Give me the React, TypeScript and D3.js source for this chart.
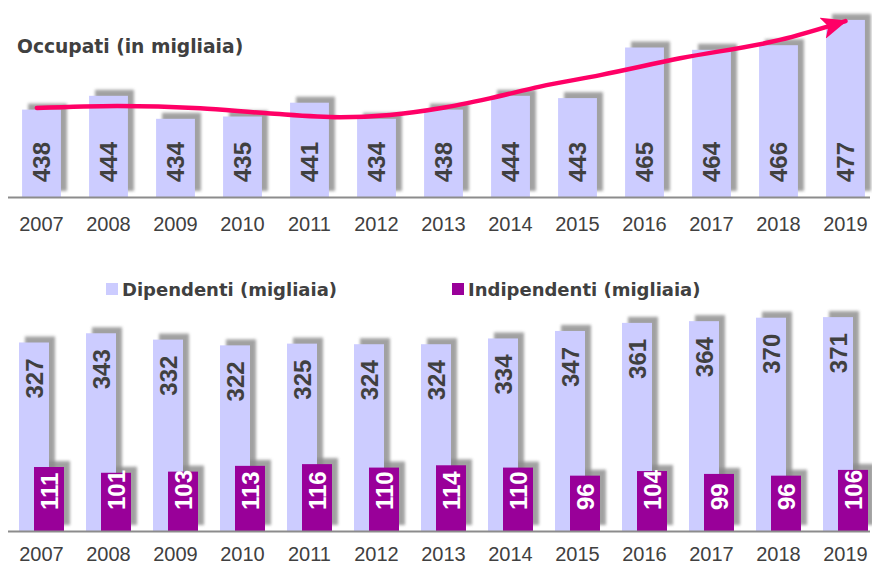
import React from "react";
import * as d3 from "d3";

const years = ["2007", "2008", "2009", "2010", "2011", "2012", "2013", "2014", "2015", "2016", "2017", "2018", "2019"];
const occupati = [438, 444, 434, 435, 441, 434, 438, 444, 443, 465, 464, 466, 477];
const dipendenti = [327, 343, 332, 322, 325, 324, 324, 334, 347, 361, 364, 370, 371];
const indipendenti = [111, 101, 103, 113, 116, 110, 114, 110, 96, 104, 99, 96, 106];
// hand-drawn trend arrow, as [year index, value]
const trendArrow: [number, number][] = [
  [-0.07, 438.7], [1.13, 439.6], [2.37, 438.6], [3.37, 436.4], [4.46, 434.7],
  [5.2, 435.7], [5.95, 438.6], [6.69, 442.9], [7.44, 448.0], [8.34, 453.0],
  [9.53, 460.3], [11.02, 468.3], [12.0, 476.5],
];

const W = 872;
const H = 566;
const TEXT = "#404040";
const LAVENDER = "#ccccff";
const PURPLE = "#990099";
const PINK = "#ff0066";

const App = () => {
  const x = d3.scaleBand().domain(years).range([8, 879]).paddingInner(0.42).paddingOuter(0.21);
  const step = x.step();
  const center = (i: number) => (x(years[0]) as number) + x.bandwidth() / 2 + i * step;

  // top chart
  const base1 = 197;
  const y1 = d3.scaleLinear().domain([400, 480]).range([base1, 13]);

  // bottom chart
  const base2 = 531;
  const y2 = d3.scaleLinear().domain([0, 400]).range([base2, base2 - 230.6]);
  const bw2 = 30;

  const trendLine = d3
    .line<[number, number]>()
    .x(d => center(d[0]))
    .y(d => y1(d[1]))
    .curve(d3.curveMonotoneX);

  const shadow = (key: string, rx: number, ry: number, w: number, h: number) => (
    <rect key={key} x={rx + 6} y={ry - 6} width={w} height={h} fill="#8a8a8a" opacity={0.8} filter="url(#blur)" />
  );

  const label = (key: string, cx: number, yy: number, txt: string, anchor: string, fill: string) => (
    <text
      key={key}
      transform={`translate(${cx},${yy}) rotate(-90)`}
      textAnchor={anchor}
      dy="0.36em"
      fill={fill}
      fontFamily="'Liberation Sans', Arial, sans-serif"
      fontWeight="bold"
      fontSize={24}
    >
      {txt}
    </text>
  );

  return (
    <svg width={W} height={H} style={{ position: "absolute", left: 0, top: 0 }}>
      <defs>
        <filter id="blur" x="-30%" y="-30%" width="160%" height="160%">
          <feGaussianBlur stdDeviation={1.6} />
        </filter>
        <marker
          id="head"
          viewBox="0 0 26 22"
          refX={24}
          refY={11}
          markerWidth={26}
          markerHeight={22}
          markerUnits="userSpaceOnUse"
          orient="auto"
        >
          <path d="M0,0 L26,11 L0,22 L6,11 Z" fill={PINK} />
        </marker>
      </defs>
      <rect width={W} height={H} fill="#fff" />

      {/* top chart */}
      <text x={17} y={53} fill={TEXT} fontFamily="'DejaVu Sans', sans-serif" fontWeight="bold" fontSize={18.7}>
        Occupati (in migliaia)
      </text>
      <g>
        {occupati.map((v, i) => shadow("s" + i, x(years[i]) as number, y1(v), x.bandwidth(), base1 - y1(v)))}
        {occupati.map((v, i) => (
          <rect key={"b" + i} x={x(years[i])} y={y1(v)} width={x.bandwidth()} height={base1 - y1(v)} fill={LAVENDER} />
        ))}
        {occupati.map((v, i) => label("l" + i, center(i), base1 - 15, String(v), "start", TEXT))}
      </g>
      <line x1={8} x2={870} y1={base1 + 0.5} y2={base1 + 0.5} stroke="#8c8c8c" strokeWidth={2} />
      {years.map((yr, i) => (
        <text key={"yt" + i} x={center(i)} y={base1 + 34} textAnchor="middle" fill={TEXT}
          fontFamily="'Liberation Sans', Arial, sans-serif" fontSize={20}>
          {yr}
        </text>
      ))}
      <path
        d={trendLine(trendArrow) || ""}
        fill="none"
        stroke={PINK}
        strokeWidth={4.5}
        strokeLinecap="round"
        markerEnd="url(#head)"
      />

      {/* bottom chart legend */}
      <rect x={106} y={283} width={12} height={12} fill={LAVENDER} />
      <text x={122} y={296} fill={TEXT} fontFamily="'DejaVu Sans', sans-serif" fontWeight="bold" fontSize={18}>
        Dipendenti (migliaia)
      </text>
      <rect x={452} y={283} width={12} height={12} fill={PURPLE} />
      <text x={468} y={296} fill={TEXT} fontFamily="'DejaVu Sans', sans-serif" fontWeight="bold" fontSize={18}>
        Indipendenti (migliaia)
      </text>

      {/* bottom chart bars */}
      <g>
        {dipendenti.map((v, i) => shadow("ds" + i, center(i) - 22.5, y2(v), bw2, base2 - y2(v)))}
        {indipendenti.map((v, i) => shadow("is" + i, center(i) - 7.5, y2(v), bw2, base2 - y2(v)))}
        {dipendenti.map((v, i) => (
          <rect key={"db" + i} x={center(i) - 22.5} y={y2(v)} width={bw2} height={base2 - y2(v)} fill={LAVENDER} />
        ))}
        {indipendenti.map((v, i) => (
          <rect key={"ib" + i} x={center(i) - 7.5} y={y2(v)} width={bw2} height={base2 - y2(v)} fill={PURPLE} />
        ))}
        {dipendenti.map((v, i) => label("dl" + i, center(i) - 7.5, y2(v) + 16, String(v), "end", TEXT))}
        {indipendenti.map((v, i) => label("il" + i, center(i) + 7.5, base2 - 21, String(v), "start", "#fff"))}
      </g>
      <line x1={8} x2={870} y1={base2 + 0.5} y2={base2 + 0.5} stroke="#8c8c8c" strokeWidth={2} />
      {years.map((yr, i) => (
        <text key={"yb" + i} x={center(i)} y={base2 + 30} textAnchor="middle" fill={TEXT}
          fontFamily="'Liberation Sans', Arial, sans-serif" fontSize={20}>
          {yr}
        </text>
      ))}
    </svg>
  );
};

export default App;
